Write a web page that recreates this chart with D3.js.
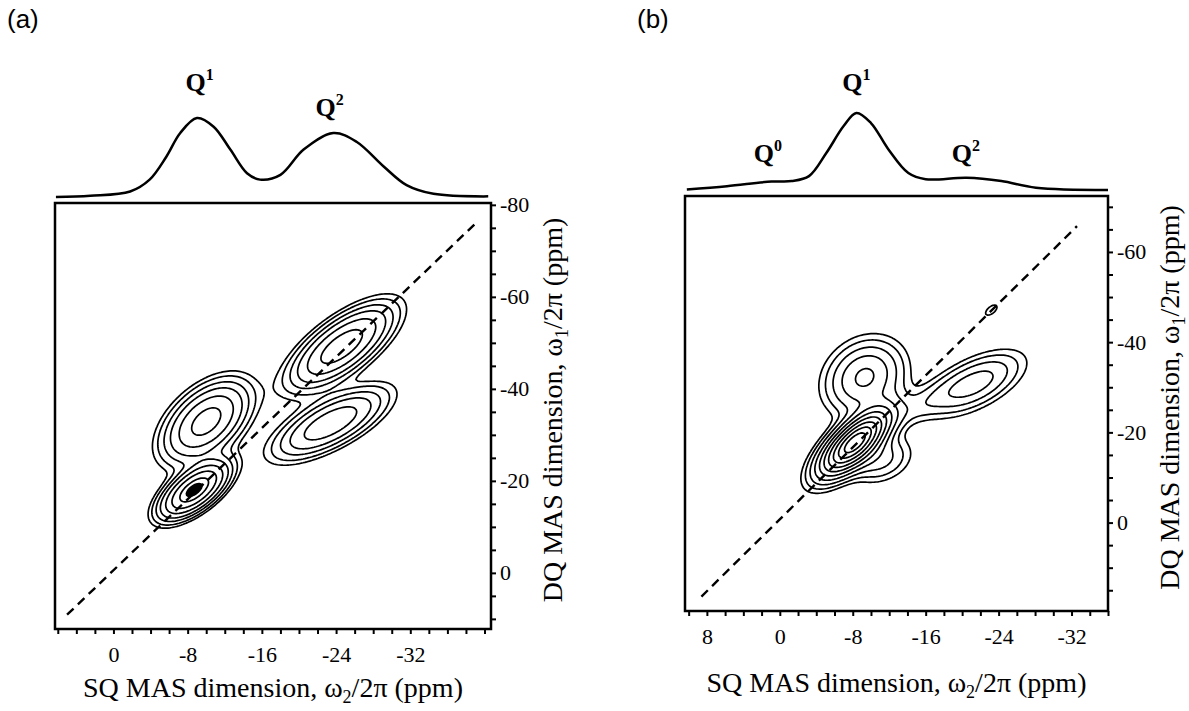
<!DOCTYPE html>
<html>
<head>
<meta charset="utf-8">
<script src="https://cdnjs.cloudflare.com/ajax/libs/d3/7.8.5/d3.min.js"></script>
<style>
  body { margin: 0; background: #fff; }
  svg { display: block; }
  .tick text { font-family: "Liberation Serif", serif; font-size: 22px; fill: #000; }
  .tick line { stroke: #000; stroke-width: 2; }
</style>
</head>
<body>
<script>
var width = 1189,
	height = 711;

// ---- values ----

// 1D projections on top: SQ shift (ppm) and relative intensity
var projSqA = [6.2, 2.5, -1.8, -3.9, -5.7, -7.2, -9.0, -10.8, -12.6, -14.4, -15.8, -18.0, -20.5, -23.7, -26.2, -29.1, -31.6, -34.5, -40.4];
var projIntA = [0, 1.6, 7, 22, 51, 81, 100, 89, 60, 30, 22, 28, 60, 81, 70, 39, 15, 4, 0.8];

var projSqB = [10.2, 5.8, 0.9, -1.3, -3.2, -5.1, -7.0, -8.4, -10.0, -11.9, -14.1, -16.0, -20.5, -24.3, -28.1, -36.0];
var projIntB = [0.8, 5, 11, 11.6, 18, 48, 83, 100, 87, 53, 22, 14, 16, 11.6, 3, 0];

// 2D peaks: centre (SQ, DQ ppm), relative height, widths along / across the
// long axis (ppm) and tilt of the long axis (deg)
var peaksA = [
	{ name: 'Q1-Q1', sq: -8.7,  dq: -18.0, amp: 1.00, wMaj: 2.4, wMin: 1.1,  tilt: 37 },
	{ name: 'Q1-Q2', sq: -10.0, dq: -32.9, amp: 0.60, wMaj: 3.1, wMin: 1.8,  tilt: 42 },
	{ name: 'Q2-Q2', sq: -24.6, dq: -49.2, amp: 0.65, wMaj: 3.7, wMin: 1.5,  tilt: 37 },
	{ name: 'Q2-Q1', sq: -23.4, dq: -32.5, amp: 0.45, wMaj: 3.8, wMin: 1.4,  tilt: 28 }
];
var peaksB = [
	{ name: 'Q1-Q1', sq: -8.2,  dq: -17.7, amp: 1.00, wMaj: 2.9, wMin: 1.2,  tilt: 43 },
	{ name: 'Q1-Q1 tail', sq: -11.0, dq: -14.0, amp: 0.12, wMaj: 2.2, wMin: 1.5, tilt: 20 },
	{ name: 'Q1-Q2', sq: -9.3,  dq: -32.2, amp: 0.26, wMaj: 2.7, wMin: 2.2,  tilt: 40 },
	{ name: 'ridge', sq: -15.5, dq: -26.0, amp: 0.05, wMaj: 3.0, wMin: 1.0,  tilt: 30 },
	{ name: 'Q2-Q1', sq: -21.3, dq: -30.8, amp: 0.20, wMaj: 3.4, wMin: 1.5,  tilt: 27 },
	{ name: 'Q2-Q2', sq: -23.2, dq: -47.1, amp: 0.05, wMaj: 0.9, wMin: 0.45, tilt: 40 }
];

// contour levels (fraction of the strongest peak)
var levelsA = [0.05, 0.08, 0.13, 0.2, 0.32, 0.5, 0.75, 0.92];
var levelsB = [0.035, 0.06, 0.1, 0.16, 0.24, 0.34, 0.46, 0.6, 0.75, 0.9];

// dashed diagonal end points (SQ, DQ)
var diagA = [[5.0, 9.1], [-39.0, -75.9]];
var diagB = [[8.6, 16.4], [-32.6, -65.7]];

// axis ticks
var xTicksA = d3.range(6, -41, -2),
	xLabelsA = [0, -8, -16, -24, -32];
var yTicksA = d3.range(10, -81, -5),
	yLabelsA = [0, -20, -40, -60, -80];
var xTicksB = d3.range(10, -37, -2),
	xLabelsB = [8, 0, -8, -16, -24, -32];
var yTicksB = d3.range(15, -71, -5),
	yLabelsB = [0, -20, -40, -60];

// peak labels (SQ position, superscript)
var qLabelsA = [{ sq: -9.3, sup: '1', top: 91 }, { sq: -23.3, sup: '2', top: 116 }];
var qLabelsB = [{ sq: 1.3, sup: '0', top: 162 }, { sq: -8.4, sup: '1', top: 91 }, { sq: -20.4, sup: '2', top: 162 }];

// ---- drawing ----
var svg = d3.select('body')
	.append('svg')
	.attr('width', width)
	.attr('height', height);

var panels = [
	{
		id: 'a', tag: '(a)', tagX: 7,
		box: [55, 491, 203, 629], xDom: [6.3, -40.7], yDom: [12.2, -80.4],
		projBase: 197, projTop: 118,
		projSq: projSqA, projInt: projIntA, peaks: peaksA, levels: levelsA, diag: diagA,
		xTicks: xTicksA, xLabels: xLabelsA, yTicks: yTicksA, yLabels: yLabelsA,
		qLabels: qLabelsA, xTitleY: 697, yTitleX: 562
	},
	{
		id: 'b', tag: '(b)', tagX: 637,
		box: [685, 1108, 196, 611], xDom: [10.4, -36.0], yDom: [19.6, -72.4],
		projBase: 190, projTop: 113,
		projSq: projSqB, projInt: projIntB, peaks: peaksB, levels: levelsB, diag: diagB,
		xTicks: xTicksB, xLabels: xLabelsB, yTicks: yTicksB, yLabels: yLabelsB,
		qLabels: qLabelsB, xTitleY: 692, yTitleX: 1179
	}
];

panels.forEach(drawPanel);

function drawPanel(p) {
	var x = d3.scaleLinear().domain(p.xDom).range([p.box[0], p.box[1]]),
		y = d3.scaleLinear().domain(p.yDom).range([p.box[3], p.box[2]]),
		yP = d3.scaleLinear().domain([0, 100]).range([p.projBase, p.projTop]);

	var g = svg.append('g');

	// panel tag
	g.append('text')
		.attr('x', p.tagX).attr('y', 28)
		.style('font-family', '"Liberation Sans", Arial, sans-serif')
		.style('font-size', '26px')
		.text(p.tag);

	// top projection
	var proj = d3.zip(p.projSq, p.projInt);
	g.append('path')
		.datum(proj)
		.attr('fill', 'none')
		.attr('stroke', '#000')
		.attr('stroke-width', 2.5)
		.attr('d', d3.line()
			.curve(d3.curveCatmullRom.alpha(0.5))
			.x(function(d) { return x(d[0]); })
			.y(function(d) { return yP(d[1]); }));

	// Q labels
	p.qLabels.forEach(function(q) {
		var t = g.append('text')
			.attr('x', x(q.sq)).attr('y', q.top)
			.attr('text-anchor', 'middle')
			.style('font-family', '"Liberation Serif", serif')
			.style('font-weight', 'bold')
			.style('font-size', '26px');
		t.append('tspan').text('Q');
		t.append('tspan').attr('dy', -11).style('font-size', '16px').text(q.sup);
	});

	// clip for the 2D map
	g.append('clipPath').attr('id', 'clip-' + p.id)
		.append('rect')
		.attr('x', p.box[0]).attr('y', p.box[2])
		.attr('width', p.box[1] - p.box[0]).attr('height', p.box[3] - p.box[2]);

	var map = g.append('g').attr('clip-path', 'url(#clip-' + p.id + ')');

	// grid of summed peaks, evaluated at SQ/DQ positions
	var nx = 240, ny = 240;
	var values = new Array(nx * ny);
	for (var j = 0; j < ny; j++) {
		var dq = p.yDom[1] + (p.yDom[0] - p.yDom[1]) * j / (ny - 1);
		for (var i = 0; i < nx; i++) {
			var sq = p.xDom[0] + (p.xDom[1] - p.xDom[0]) * i / (nx - 1);
			var v = 0;
			p.peaks.forEach(function(k) {
				var X = sq - k.sq,
					Y = (dq - k.dq) / 2,
					a = k.tilt * Math.PI / 180,
					u = X * Math.cos(a) + Y * Math.sin(a),
					w = -X * Math.sin(a) + Y * Math.cos(a);
				v += k.amp * Math.exp(-(u * u) / (2 * k.wMaj * k.wMaj) - (w * w) / (2 * k.wMin * k.wMin));
			});
			values[i + j * nx] = v;
		}
	}

	var contours = d3.contours().size([nx, ny]).thresholds(p.levels)(values);

	var toPx = d3.geoTransform({
		point: function(gx, gy) {
			var sq = p.xDom[0] + (p.xDom[1] - p.xDom[0]) * (gx - 0.5) / (nx - 1),
				dq = p.yDom[1] + (p.yDom[0] - p.yDom[1]) * (gy - 0.5) / (ny - 1);
			this.stream.point(x(sq), y(dq));
		}
	});
	var path = d3.geoPath(toPx);

	map.selectAll('path.c')
		.data(contours)
		.enter().append('path')
		.attr('class', 'c')
		.attr('d', path)
		.attr('fill', function(d) { return d.value >= 0.92 ? '#000' : 'none'; })
		.attr('stroke', '#000')
		.attr('stroke-width', 1.7)
		.attr('stroke-linejoin', 'round');

	// diagonal
	map.append('line')
		.attr('x1', x(p.diag[0][0])).attr('y1', y(p.diag[0][1]))
		.attr('x2', x(p.diag[1][0])).attr('y2', y(p.diag[1][1]))
		.attr('stroke', '#000')
		.attr('stroke-width', 2.4)
		.attr('stroke-dasharray', '9,6');

	// frame
	g.append('rect')
		.attr('x', p.box[0]).attr('y', p.box[2])
		.attr('width', p.box[1] - p.box[0]).attr('height', p.box[3] - p.box[2])
		.attr('fill', 'none')
		.attr('stroke', '#000')
		.attr('stroke-width', 2.5);

	// bottom axis
	var xAxis = d3.axisBottom(x)
		.tickValues(p.xTicks)
		.tickSize(5)
		.tickSizeOuter(0)
		.tickPadding(7)
		.tickFormat(function(d) { return p.xLabels.indexOf(d) >= 0 ? String(d) : ''; });
	var gx = g.append('g')
		.attr('transform', 'translate(0,' + p.box[3] + ')')
		.call(xAxis);
	gx.select('.domain').remove();
	gx.selectAll('.tick text').attr('dy', '0.95em');

	// right axis
	var yAxis = d3.axisRight(y)
		.tickValues(p.yTicks)
		.tickSize(5)
		.tickSizeOuter(0)
		.tickPadding(4)
		.tickFormat(function(d) { return p.yLabels.indexOf(d) >= 0 ? String(d) : ''; });
	var gy = g.append('g')
		.attr('transform', 'translate(' + p.box[1] + ',0)')
		.call(yAxis);
	gy.select('.domain').remove();

	// axis titles
	var xt = g.append('text')
		.attr('x', (p.box[0] + p.box[1]) / 2)
		.attr('y', p.xTitleY)
		.attr('text-anchor', 'middle')
		.style('font-family', '"Liberation Serif", serif')
		.style('font-size', '28px');
	xt.append('tspan').text('SQ MAS dimension, \u03c9');
	xt.append('tspan').attr('dy', 6).style('font-size', '18px').text('2');
	xt.append('tspan').attr('dy', -6).text('/2\u03c0 (ppm)');

	var yt = g.append('text')
		.attr('transform', 'translate(' + p.yTitleX + ',' + ((p.box[2] + p.box[3]) / 2 - 6) + ') rotate(-90)')
		.attr('text-anchor', 'middle')
		.style('font-family', '"Liberation Serif", serif')
		.style('font-size', '28px');
	yt.append('tspan').text('DQ MAS dimension, \u03c9');
	yt.append('tspan').attr('dy', 6).style('font-size', '18px').text('1');
	yt.append('tspan').attr('dy', -6).text('/2\u03c0 (ppm)');
}
</script>
</body>
</html>
